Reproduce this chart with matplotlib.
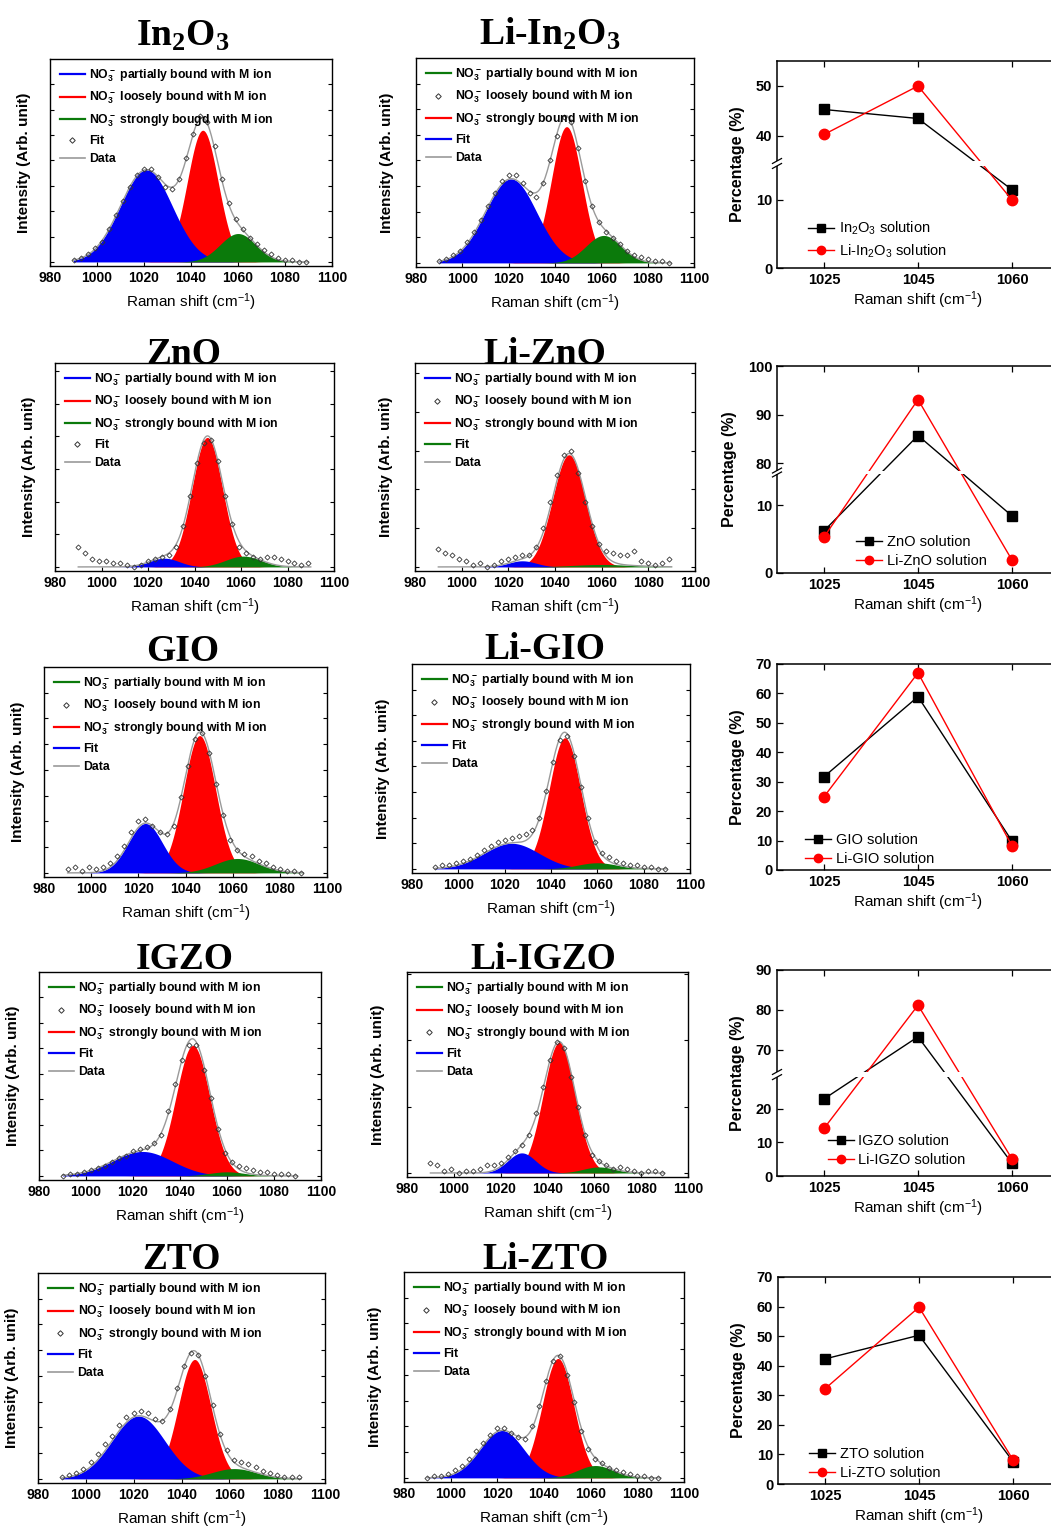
import numpy as np
import matplotlib
matplotlib.use("Agg")
import matplotlib.pyplot as plt
from matplotlib.lines import Line2D
from matplotlib.patches import Rectangle

plt.rcParams["font.family"] = ["Liberation Sans", "DejaVu Sans"]
plt.rcParams["mathtext.fontset"] = "custom"
plt.rcParams["mathtext.rm"] = "Liberation Sans"

# ---------------------------------------------------------------- data
samples = ["In2O3", "Li-In2O3", "ZnO", "Li-ZnO", "GIO", "Li-GIO",
           "IGZO", "Li-IGZO", "ZTO", "Li-ZTO"]
titles = ["In$\\mathregular{_2}$O$\\mathregular{_3}$",
          "Li-In$\\mathregular{_2}$O$\\mathregular{_3}$",
          "ZnO", "Li-ZnO", "GIO", "Li-GIO", "IGZO", "Li-IGZO", "ZTO", "Li-ZTO"]

# fitted peak components (center, height, FWHM)
blue_center = [1021, 1021, 1027, 1026, 1023, 1023, 1024, 1029, 1022, 1022]
blue_height = [0.454, 0.41, 0.043, 0.03, 0.24, 0.125, 0.12, 0.10, 0.305, 0.23]
blue_fwhm = [26, 26, 15, 14, 17, 28, 30, 14, 26, 22]
red_center = [1045, 1045, 1045.5, 1046, 1046, 1046, 1045.5, 1045, 1045.5, 1046]
red_height = [0.649, 0.665, 0.635, 0.55, 0.667, 0.64, 0.64, 0.65, 0.58, 0.58]
red_fwhm = [15.5, 15.5, 15.5, 16.5, 16, 16, 17, 16, 16, 16]
green_center = [1060, 1061, 1061, 1060, 1062, 1060, 1060, 1062, 1062, 1062]
green_height = [0.14, 0.134, 0.053, 0.012, 0.07, 0.03, 0.02, 0.03, 0.05, 0.06]
green_fwhm = [18, 18, 18, 30, 22, 20, 18, 16, 22, 18]

# measured points, every 3 cm-1 from 990 to 1089
raman_x = np.arange(990, 1090, 3)
spec_in2o3 = [0.01, 0.02, 0.04, 0.07, 0.10, 0.16, 0.23, 0.30, 0.37, 0.43, 0.46, 0.46,
              0.42, 0.37, 0.36, 0.41, 0.51, 0.63, 0.72, 0.69, 0.57, 0.41, 0.29, 0.21,
              0.16, 0.12, 0.09, 0.06, 0.04, 0.02, 0.01, 0.01, 0.0, 0.0]
spec_li_in2o3 = [0.01, 0.02, 0.04, 0.06, 0.10, 0.15, 0.21, 0.28, 0.34, 0.40, 0.43, 0.43,
                 0.39, 0.34, 0.32, 0.39, 0.50, 0.62, 0.71, 0.69, 0.56, 0.40, 0.28, 0.20,
                 0.15, 0.12, 0.09, 0.06, 0.04, 0.03, 0.02, 0.01, 0.01, 0.0]
spec_zno = [0.10, 0.07, 0.04, 0.03, 0.03, 0.02, 0.02, 0.01, 0.00, 0.01, 0.03, 0.04,
            0.05, 0.06, 0.10, 0.20, 0.35, 0.51, 0.61, 0.62, 0.52, 0.35, 0.21, 0.10,
            0.07, 0.05, 0.04, 0.05, 0.05, 0.04, 0.03, 0.02, 0.01, 0.02]
spec_li_zno = [0.09, 0.07, 0.06, 0.04, 0.03, 0.01, 0.02, 0.00, 0.01, 0.03, 0.04, 0.05,
               0.06, 0.06, 0.10, 0.19, 0.32, 0.45, 0.55, 0.57, 0.46, 0.32, 0.20, 0.11,
               0.08, 0.07, 0.06, 0.06, 0.08, 0.03, 0.02, 0.01, 0.02, 0.04]
spec_gio = [0.02, 0.03, 0.01, 0.03, 0.02, 0.03, 0.05, 0.08, 0.13, 0.20, 0.25, 0.26,
            0.23, 0.20, 0.19, 0.23, 0.37, 0.52, 0.65, 0.68, 0.58, 0.43, 0.28, 0.16,
            0.11, 0.09, 0.08, 0.06, 0.05, 0.03, 0.02, 0.01, 0.01, 0.0]
spec_li_gio = [0.01, 0.02, 0.02, 0.03, 0.04, 0.05, 0.07, 0.09, 0.11, 0.13, 0.14, 0.15,
               0.16, 0.17, 0.19, 0.25, 0.38, 0.52, 0.63, 0.65, 0.55, 0.40, 0.25, 0.13,
               0.08, 0.06, 0.04, 0.03, 0.02, 0.02, 0.01, 0.01, 0.0, 0.0]
spec_igzo = [0.00, 0.01, 0.01, 0.02, 0.03, 0.04, 0.05, 0.07, 0.09, 0.10, 0.12, 0.13,
             0.14, 0.16, 0.20, 0.32, 0.45, 0.57, 0.64, 0.64, 0.52, 0.38, 0.23, 0.11,
             0.07, 0.05, 0.04, 0.03, 0.02, 0.02, 0.01, 0.01, 0.01, 0.00]
spec_li_igzo = [0.05, 0.04, 0.01, 0.02, 0.00, 0.01, 0.01, 0.02, 0.04, 0.04, 0.05, 0.08,
                0.11, 0.14, 0.19, 0.30, 0.43, 0.56, 0.65, 0.62, 0.48, 0.33, 0.19, 0.09,
                0.06, 0.04, 0.02, 0.03, 0.02, 0.01, 0.00, 0.01, 0.01, 0.00]
spec_zto = [0.01, 0.02, 0.03, 0.05, 0.08, 0.12, 0.17, 0.21, 0.26, 0.30, 0.32, 0.33,
            0.32, 0.29, 0.28, 0.34, 0.44, 0.55, 0.61, 0.60, 0.50, 0.36, 0.22, 0.14,
            0.09, 0.08, 0.07, 0.06, 0.04, 0.03, 0.02, 0.01, 0.01, 0.01]
spec_li_zto = [0.0, 0.01, 0.01, 0.02, 0.04, 0.06, 0.09, 0.13, 0.17, 0.21, 0.24, 0.24,
               0.22, 0.20, 0.19, 0.25, 0.35, 0.47, 0.57, 0.59, 0.50, 0.37, 0.23, 0.14,
               0.09, 0.07, 0.05, 0.04, 0.03, 0.02, 0.01, 0.01, 0.0, 0.0]
spectra = [spec_in2o3, spec_li_in2o3, spec_zno, spec_li_zno, spec_gio, spec_li_gio,
           spec_igzo, spec_li_igzo, spec_zto, spec_li_zto]

# legend of each spectrum panel: handle order (b/r/g fill colour, d diamond, k grey line)
legend_order = ["brgdk", "gdrbk", "brgdk", "bdrgk", "gdrbk",
                "gdrbk", "gdrbk", "grdbk", "grdbk", "gdrbk"]
legend_labels = ["NO$\\mathregular{_3^-}$ partially bound with M ion",
                 "NO$\\mathregular{_3^-}$ loosely bound with M ion",
                 "NO$\\mathregular{_3^-}$ strongly bound with M ion",
                 "Fit", "Data"]

# percentage of each band
pct_bands = ["1025", "1045", "1060"]
pct_names = ["In$\\mathregular{_2}$O$\\mathregular{_3}$", "ZnO", "GIO", "IGZO", "ZTO"]
pct_plain = [[45.3, 43.5, 11.5], [6.2, 85.7, 8.4], [31.7, 58.9, 9.8],
             [23.0, 73.3, 3.8], [42.3, 50.3, 7.6]]
pct_li = [[40.3, 50.0, 10.0], [5.3, 93.1, 1.9], [24.9, 67.0, 8.2],
          [14.2, 81.2, 5.1], [32.2, 59.8, 8.2]]
pct_yticks = [[0, 10, 40, 50], [0, 10, 80, 90, 100], [0, 10, 20, 30, 40, 50, 60, 70],
              [0, 10, 20, 70, 80, 90], [0, 10, 20, 30, 40, 50, 60, 70]]

# ---------------------------------------------------------------- layout
W, H = 1051, 1531
BLUE, RED, GREEN, GREY = "#0000f5", "#ff0000", "#0b7a0b", "#9a9a9a"

spec_boxes = [(50, 59, 332, 266), (416, 58, 694, 267),
              (55, 363, 334, 571), (415, 363, 695, 571),
              (44, 667, 327, 877), (412, 664, 690, 873),
              (39, 972, 321, 1180), (407, 972, 688, 1177),
              (38, 1273, 325, 1483), (404, 1272, 684, 1482)]
title_pos = [(183, 46), (550, 45), (184, 364), (545, 364), (183, 661),
             (545, 659), (185, 969), (543, 969), (182, 1269), (546, 1269)]
spec_ystep = [0.125, 0.125, 0.16, 0.19, 0.125, 0.125, 0.125, 0.33, 0.125, 0.125]
ylab_pad = [10, 12, 10, 12, 10, 12, 10, 12, 10, 12]

pct_boxes = [(777, 61, 268), (777, 366, 573), (777, 664, 870),
             (777, 970, 1176), (778, 1277, 1484)]
pct_top = [55, 100, 70, 90, 70]
# broken axes: (lower top, upper bottom, fraction of lower part, gap fraction)
pct_break = [(15, 35, 0.493, 0.024), (14.5, 78.5, 0.476, 0.019), None,
             (29.5, 64.5, 0.48, 0.025), None]
pct_leg_anchor = [(0.11, 0.04), (0.28, 0.025), (0.10, 0.02), (0.18, 0.045), (0.11, 0.02)]


def px_rect(l, t, r, b):
    return [l / W, 1 - b / H, (r - l) / W, (b - t) / H]


def gauss(x, c, h, w):
    return h * np.exp(-4 * np.log(2) * (x - c) ** 2 / w ** 2)


fig = plt.figure(figsize=(W / 100, H / 100), dpi=100)

handles_lib = {
    "b": Line2D([], [], color=BLUE, lw=1.6),
    "r": Line2D([], [], color=RED, lw=1.6),
    "g": Line2D([], [], color=GREEN, lw=1.6),
    "d": Line2D([], [], ls="none", marker="D", ms=2.8, mfc="none", mec="#333333", mew=0.7),
    "k": Line2D([], [], color=GREY, lw=1.2),
}

xs = np.linspace(990, 1090, 501)
for i, name in enumerate(samples):
    ax = fig.add_axes(px_rect(*spec_boxes[i]))
    blue = gauss(xs, blue_center[i], blue_height[i], blue_fwhm[i])
    red = gauss(xs, red_center[i], red_height[i], red_fwhm[i])
    green = gauss(xs, green_center[i], green_height[i], green_fwhm[i])
    ax.fill_between(xs, 0, red, color=RED, lw=0, zorder=1)
    ax.fill_between(xs, 0, blue, color=BLUE, lw=0, zorder=1.2)
    ax.fill_between(xs, 0, green, color=GREEN, lw=0, zorder=1.3)
    ax.plot(xs, blue + red + green, color=GREY, lw=1.0, zorder=2)
    ax.plot(raman_x, spectra[i], ls="none", marker="D", ms=2.6, mfc="none",
            mec="#333333", mew=0.6, zorder=3)
    ax.set_xlim(980, 1100)
    ax.set_ylim(-0.02, 1.0)
    ax.set_xticks(np.arange(980, 1101, 20))
    ax.set_yticks(np.arange(0, 1.0, spec_ystep[i]))
    ax.set_yticklabels([])
    ax.tick_params(direction="in", length=3, width=0.8, right=True, labelsize=10)
    for lab in ax.get_xticklabels():
        lab.set_fontweight("bold")
    for s in ax.spines.values():
        s.set_linewidth(1.0)
    ax.set_xlabel("Raman shift (cm$\\mathregular{^{-1}}$)", fontsize=11, labelpad=5)
    ax.set_ylabel("Intensity (Arb. unit)", fontsize=11, fontweight="bold",
                  labelpad=ylab_pad[i])
    labels = list(legend_labels)
    if name == "In2O3":
        labels[2] = "NO$\\mathregular{_3^-}$ strongly bougd with M ion"
    hs = [handles_lib[c] for c in legend_order[i]]
    ax.legend(hs, labels, loc="upper left", bbox_to_anchor=(0.01, 0.995), frameon=False,
              handlelength=2.0, handletextpad=0.4, labelspacing=0.5,
              borderaxespad=0.2, prop={"weight": "bold", "size": 8.8})
    tx, ty = title_pos[i]
    fig.text(tx / W, 1 - ty / H, titles[i], ha="center", va="baseline",
             family="Liberation Serif", fontweight="bold", fontsize=27, zorder=-1)

for j in range(5):
    l, t, b = pct_boxes[j]
    ax = fig.add_axes(px_rect(l, t, l + 282, b))
    top = pct_top[j]
    brk = pct_break[j]
    if brk is not None:
        b1, b2, p1, g = brk
        ys = [-1000, 0, b1, b2, top, top + 1000]
        fs = [-1000 * p1 / b1, 0, p1, p1 + g, 1, 1 + 1000 * (1 - p1 - g) / (top - b2)]
        fwd = lambda y, ys=ys, fs=fs: np.interp(y, ys, fs)
        inv = lambda f, ys=ys, fs=fs: np.interp(f, fs, ys)
        ax.set_yscale("function", functions=(fwd, inv))
    idx = np.arange(len(pct_bands))
    ax.plot(idx, pct_plain[j], color="black", marker="s", ms=7, lw=1.0, zorder=2,
            label=pct_names[j] + " solution")
    ax.plot(idx, pct_li[j], color=RED, marker="o", ms=7.5, lw=1.0, zorder=2.05,
            label="Li-" + pct_names[j] + " solution")
    ax.set_xlim(-0.5, 2.5)
    ax.set_ylim(0, top)
    ax.set_xticks(idx)
    ax.set_xticklabels(pct_bands)
    ax.set_yticks(pct_yticks[j])
    ax.set_yticklabels([str(v) for v in pct_yticks[j]])
    ax.yaxis.set_minor_locator(plt.NullLocator())
    ax.tick_params(direction="in", length=4, width=0.9, top=True, labelsize=10.5)
    for lab in ax.get_xticklabels() + ax.get_yticklabels():
        lab.set_fontweight("bold")
    for s in ax.spines.values():
        s.set_linewidth(1.1)
    ax.set_xlabel("Raman shift (cm$\\mathregular{^{-1}}$)", fontsize=11, labelpad=2)
    ax.set_ylabel("Percentage (%)", fontsize=11.5, fontweight="bold", labelpad=8)
    if brk is not None:
        ax.add_patch(Rectangle((-0.03, p1), 1.06, g, transform=ax.transAxes,
                               color="white", lw=0, clip_on=False, zorder=2.6))
        for y0 in (p1, p1 + g):
            ax.plot([-0.016, 0.016], [y0 - 0.012, y0 + 0.012], color="black", lw=0.9,
                    transform=ax.transAxes, clip_on=False, zorder=3)
    ax.legend(loc="lower left", bbox_to_anchor=pct_leg_anchor[j], frameon=False,
              fontsize=10.5, handlelength=1.8, handletextpad=0.3, labelspacing=0.35,
              borderaxespad=0, borderpad=0, markerscale=0.8)

fig.savefig("out.png", dpi=100)
